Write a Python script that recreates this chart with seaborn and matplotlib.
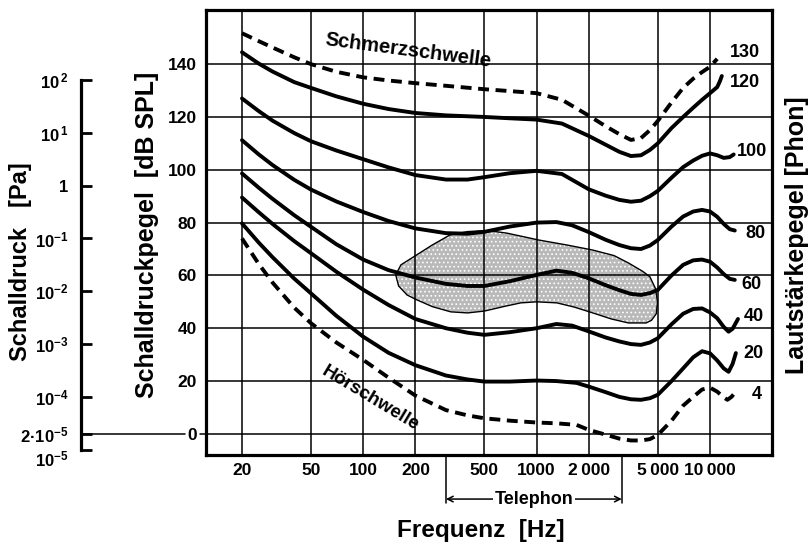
import numpy as np
import matplotlib
matplotlib.use('Agg')
import matplotlib.pyplot as plt
import seaborn as sns

# axis ticks
FREQ_TICKS = [20, 50, 100, 200, 500, 1000, 2000, 5000, 10000]
FREQ_LABELS = ["20", "50", "100", "200", "500", "1000", "2\u2009000", "5\u2009000", "10\u2009000"]
SPL_TICKS = [0, 20, 40, 60, 80, 100, 120, 140]
PA_TICKS = [1e2, 1e1, 1, 1e-1, 1e-2, 1e-3, 1e-4, 2e-5, 1e-5]
PA_LABELS = [r"$10^{\,2}$", r"$10^{\,1}$", "1", r"$10^{-1}$", r"$10^{-2}$",
             r"$10^{-3}$", r"$10^{-4}$", "$2\u00b710^{-5}$", r"$10^{-5}$"]

# equal loudness contours (Hz, dB SPL)
f_130 = [20, 25, 30, 40, 50, 70, 100, 140, 200, 300, 500, 700, 1000, 1400, 2000, 2500, 3000,
         3500, 4000, 4500, 5000, 6000, 7000, 8000, 9000, 10000, 11000]
db_130 = [151.7, 148.7, 146.3, 142.6, 140, 137.1, 135, 133.8, 132.8, 131.8, 130.5, 129.8, 129,
          126.5, 120.5, 116.5, 113.5, 111.3, 112, 115, 118.5, 125.5, 131, 134.5, 137, 139, 142]

f_120 = [20, 25, 30, 40, 50, 70, 100, 140, 200, 300, 500, 700, 1000, 1400, 2000, 2500, 3000,
         3500, 4000, 4500, 5000, 6000, 7000, 8000, 9000, 10000, 11000, 11400, 11700]
db_120 = [144.5, 140.2, 137.2, 133.2, 131, 127.8, 125, 123, 121.5, 120.6, 120, 119.5, 119, 117.5,
          112.8, 109.5, 106.8, 105.2, 105.5, 107.5, 110, 115.8, 120, 123.5, 126.5, 129, 131.3,
          133.5, 135.5]

f_100 = [20, 25, 30, 40, 50, 70, 100, 140, 200, 300, 400, 500, 700, 1000, 1400, 2000, 2500,
         3000, 3500, 4000, 4500, 5000, 6000, 7000, 8000, 9000, 10000, 11000, 12000, 13000, 13700]
db_100 = [127, 122.2, 118.6, 113.9, 110.8, 107.3, 104, 100.9, 98, 96.3, 96.3, 97.2, 98.7, 99.6,
          98.4, 92.6, 90.2, 88.6, 87.9, 88.3, 90, 92, 97, 101, 103.5, 105.3, 106.2, 105.5,
          104.5, 104.8, 105.8]

f_80 = [20, 25, 30, 40, 50, 70, 100, 140, 200, 300, 400, 500, 700, 1000, 1300, 1600, 2000, 2500,
        3000, 3500, 4000, 4500, 5000, 6000, 7000, 8000, 9000, 10000, 11000, 12000, 13000, 13900]
db_80 = [111.2, 105.8, 101.8, 96.2, 92.5, 88, 84, 80.6, 77.8, 76, 75.8, 76.5, 78.5, 80, 80.2, 79,
         76.4, 73.5, 71.5, 70.3, 70, 71.3, 73.4, 78.5, 82.3, 84.2, 84.8, 84.2, 82.2, 79.5, 77.5, 77]

f_60 = [20, 25, 30, 40, 50, 70, 100, 140, 200, 300, 400, 500, 700, 1000, 1300, 1600, 2000, 2500,
        3000, 3500, 4000, 4500, 5000, 6000, 7000, 8000, 9000, 10000, 11000, 12000, 13000, 13900]
db_60 = [98.6, 93.2, 89, 82.8, 78.4, 71.8, 66, 62, 59.2, 56.8, 56, 56, 57.8, 60.2, 61.8, 61,
         58.9, 56.3, 54.4, 53, 52.6, 53.3, 54.5, 60, 64, 65.7, 66, 65.2, 63, 60.5, 58.7, 58.3]

f_40 = [20, 25, 30, 40, 50, 70, 100, 140, 200, 300, 400, 500, 700, 1000, 1300, 1600, 2000, 2500,
        3000, 3500, 4000, 4500, 5000, 6000, 7000, 8000, 9000, 10000, 11000, 12000, 12800, 13500,
        14500]
db_40 = [89.5, 83.9, 79.5, 73, 68.4, 61.4, 54.6, 48.8, 43.5, 40, 38.3, 37.5, 38.5, 40, 41.6, 41,
         38.8, 36.5, 35, 34, 33.7, 34.6, 36.2, 41.5, 45.5, 47.3, 47.5, 46, 43.8, 40.5, 38.7,
         39.8, 43.5]

f_20 = [20, 25, 30, 40, 50, 70, 100, 140, 200, 300, 400, 500, 700, 1000, 1300, 1700, 2000, 2500,
        3000, 3500, 4000, 4500, 5000, 6000, 7000, 8000, 9000, 10000, 11000, 12000, 12800, 13500,
        14100]
db_20 = [79.7, 72.4, 66.9, 58.8, 53.2, 44.7, 36.8, 30.7, 26, 22.1, 20.6, 19.8, 19.8, 20.2, 20,
         19.3, 17.9, 15.8, 14, 13.1, 12.9, 13.5, 14.8, 20, 24.8, 29, 31.3, 30.5, 27.8, 24.8, 23.5,
         26.5, 30.6]

f_4 = [20, 25, 30, 40, 50, 70, 100, 140, 200, 300, 400, 500, 700, 1000, 1300, 1700, 2000, 2500,
       3000, 3500, 4000, 4500, 5000, 6000, 7000, 8000, 9000, 10000, 11000, 12000, 12600, 13300,
       14100]
db_4 = [74, 64.3, 57.3, 47.8, 41.9, 34.6, 28, 21.3, 14.5, 9, 7, 5.9, 5, 4.3, 4, 3.4, 1.5, -0.3,
        -1.8, -2.5, -2.5, -2, -0.4, 5, 10.7, 14, 16.8, 17.5, 16, 13.8, 12.9, 14, 16]

# speech area outline
blob_f = [154, 165, 196, 250, 316, 400, 484, 580, 675, 1030, 1500, 2110, 2800, 3390, 4100, 4500,
          4850, 4980, 4900, 4600, 4280, 3390, 2700, 2110, 1650, 1310, 1000, 810, 645, 500,
          400, 320, 250, 200, 179, 160, 154]
blob_db = [60.2, 64, 67.1, 71.5, 75.3, 76.6, 76.9, 76.6, 76.0, 73.4, 71.5, 69.6, 67.5, 64.7, 61.5,
           59.5, 55, 50, 45.5, 43, 42, 42, 43.5, 45.8, 48, 49.6, 50, 49.6, 48.2, 46.5,
           45.8, 46.2, 48.2, 51, 52.6, 56, 60.2]

curves = [
    ("130", f_130, db_130, True, (13, 6)),
    ("120", f_120, db_120, False, (8, -6)),
    ("100", f_100, db_100, False, (3, 3)),
    ("80", f_80, db_80, False, (11, -3)),
    ("60", f_60, db_60, False, (7, -5)),
    ("40", f_40, db_40, False, (6, 2)),
    ("20", f_20, db_20, False, (8, 0)),
    ("4", f_4, db_4, True, (16, -3)),
]

sns.set_style("white")
plt.rcParams['font.family'] = ['Liberation Sans', 'DejaVu Sans']
plt.rcParams.update({
    'font.weight': 'bold',
    'axes.labelweight': 'bold',
    'text.color': 'black',
    'axes.labelcolor': 'black',
    'xtick.color': 'black',
    'ytick.color': 'black',
    'mathtext.fontset': 'custom',
    'mathtext.rm': 'Liberation Sans:bold',
    'mathtext.it': 'Liberation Sans:bold',
    'mathtext.bf': 'Liberation Sans:bold',
    'mathtext.default': 'rm',
    'hatch.linewidth': 0.7,
})

fig = plt.figure(figsize=(8.12, 5.46), dpi=100)
ax = fig.add_axes([206 / 812, 91 / 546, 566 / 812, 445 / 546])
ax.set_xscale('log')
ax.set_xlim(12.4, 22780)
ax.set_ylim(-8, 160.5)

ax.set_xticks(FREQ_TICKS)
ax.set_xticklabels(FREQ_LABELS)
ax.xaxis.set_minor_locator(matplotlib.ticker.NullLocator())
ax.set_yticks(SPL_TICKS)
ax.tick_params(axis='both', length=0, labelsize=12.5)
ax.tick_params(axis='x', pad=6)
ax.tick_params(axis='y', pad=6.5)
ax.grid(True, color='black', lw=1.1)
ax.set_axisbelow(True)
for s in ax.spines.values():
    s.set_color('black')
    s.set_linewidth(2.3)

# speech area
ax.fill(blob_f, blob_db, facecolor='#b9b9b9', edgecolor='white', hatch='....', lw=0, zorder=0.3)
ax.fill(blob_f, blob_db, facecolor='none', edgecolor='black', lw=1.0, zorder=1.5)

for name, f, db, dashed, off in curves:
    ls = (0, (2.8, 1.7)) if dashed else '-'
    sns.lineplot(x=f, y=db, ax=ax, color='black', lw=2.8, linestyle=ls, sort=False,
                 estimator=None, solid_capstyle='round', solid_joinstyle='round', zorder=3)
    ax.annotate(name, xy=(f[-1], db[-1]), xytext=off, textcoords='offset pixels',
                ha='left', va='center', fontsize=13, annotation_clip=False)

ax.text(181, 145, "Schmerzschwelle", rotation=-7.5, ha='center', va='center',
        rotation_mode='anchor', fontsize=14.5)
ax.text(110, 13.5, "Hörschwelle", rotation=-31, ha='center', va='center',
        rotation_mode='anchor', fontsize=13.5)

# telephone band
tel_lo, tel_hi = 300, 3100
for fx in (tel_lo, tel_hi):
    ax.plot([fx, fx], [0, -0.108], color='black', lw=1.1, clip_on=False,
            transform=ax.get_xaxis_transform())
ax.annotate('', xy=(tel_lo, -0.099), xytext=(tel_hi, -0.099),
            xycoords=ax.get_xaxis_transform(), textcoords=ax.get_xaxis_transform(),
            arrowprops=dict(arrowstyle='<->', color='black', lw=1.1,
                            shrinkA=0, shrinkB=0, mutation_scale=10))
ax.text(np.sqrt(tel_lo * tel_hi), -0.099, "Telephon", transform=ax.get_xaxis_transform(),
        ha='center', va='center', fontsize=13,
        bbox=dict(facecolor='white', edgecolor='none', pad=1))

# labels
ax.set_xlabel("Frequenz  [Hz]", fontsize=17.5)
ax.xaxis.set_label_coords(0.486, -0.17)
ax.xaxis.label.set_va('center')
ax.set_ylabel("Schalldruckpegel  [dB SPL]", fontsize=18)
ax.yaxis.set_label_coords(-0.104, 0.494)
ax.yaxis.label.set_va('center')
ax.text(1.044, 0.494, "Lautstärkepegel [Phon]", transform=ax.transAxes, rotation=90,
        ha='center', va='center', fontsize=18)
ax.text(-0.328, 0.434, "Schalldruck   [Pa]", transform=ax.transAxes, rotation=90,
        ha='center', va='center', fontsize=17)

# sound pressure axis
def db_to_pa(db):
    return 2e-5 * 10 ** (np.asarray(db, dtype=float) / 20)

def pa_to_db(pa):
    return 20 * np.log10(np.maximum(np.asarray(pa, dtype=float), 1e-30) / 2e-5)

secax = ax.secondary_yaxis(-0.2208, functions=(db_to_pa, pa_to_db))
secax.set_yticks(PA_TICKS, labels=PA_LABELS)
secax.yaxis.set_minor_locator(matplotlib.ticker.NullLocator())
secax.tick_params(axis='y', direction='in', length=8, width=2, labelsize=12, pad=9)
secax.spines['left'].set_linewidth(2.3)
secax.spines['left'].set_color('black')
secax.spines['left'].set_bounds(1e-5, 1e2)
for lbl in secax.get_yticklabels():
    if lbl.get_text() == r"$10^{-5}$":
        lbl.set_va('top')

# 0 dB reference line to the pressure axis
ax.plot([-0.2208, -0.037], [0, 0], color='black', lw=1.1, clip_on=False,
        transform=ax.get_yaxis_transform())
ax.plot([-0.0106, 0], [0, 0], color='black', lw=1.1, clip_on=False,
        transform=ax.get_yaxis_transform())

fig.savefig('out.png', dpi=100, facecolor='white')
